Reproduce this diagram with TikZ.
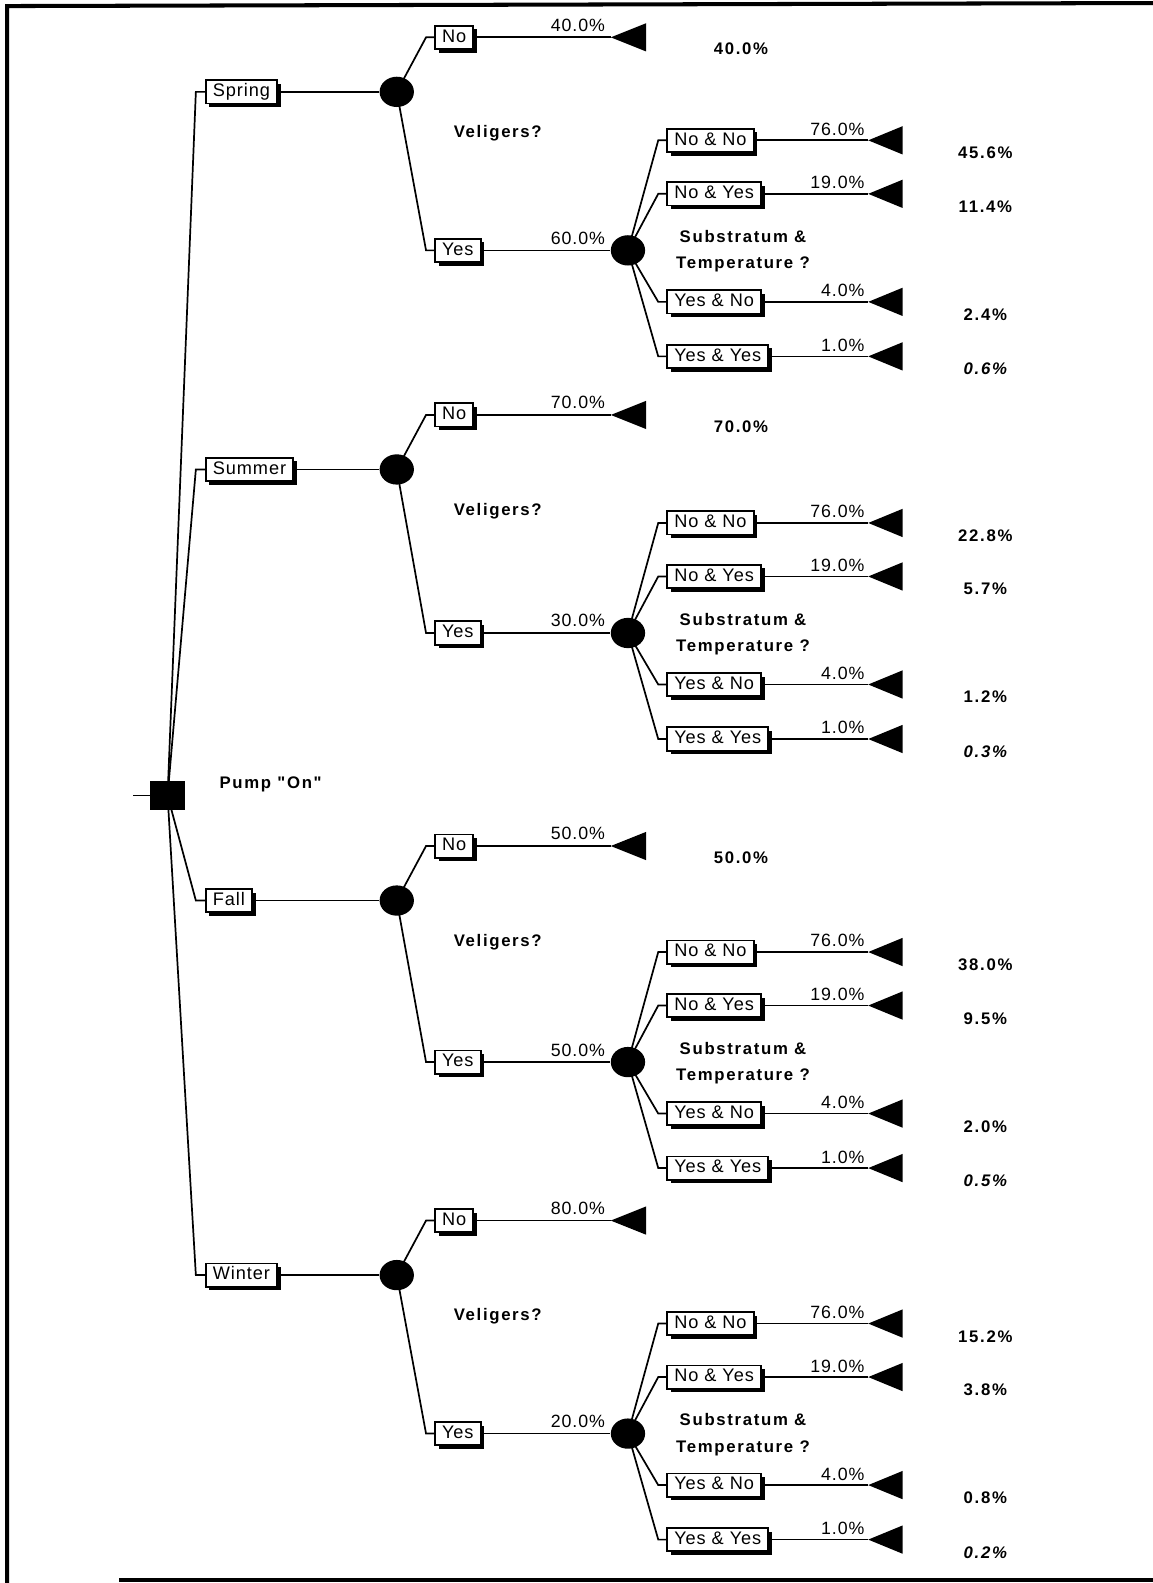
\documentclass[tikz,border=0pt]{standalone}
\usepackage{fontspec}
\setmainfont{Liberation Sans}
\newfontfamily\lblfont[LetterSpace=5]{Liberation Sans}
\newfontfamily\annfont[LetterSpace=10]{Liberation Sans}
\usetikzlibrary{shapes.geometric,shadows}
\begin{document}
\begin{tikzpicture}[x=0.5pt,y=-0.5pt,line width=0.85pt,
  lbox/.style={draw,fill=white,line width=0.9pt,anchor=west,
    drop shadow={shadow xshift=1.8pt,shadow yshift=-1.8pt,fill=black,opacity=1},
    font=\lblfont\fontsize{9}{10}\selectfont,
    inner xsep=3.5pt,inner ysep=1.5pt,text height=6.6pt,text depth=1.9pt},
  chance/.style={ellipse,fill=black,minimum width=17pt,minimum height=15pt,inner sep=0pt},
  decis/.style={rectangle,fill=black,minimum width=17pt,minimum height=14pt,inner sep=0pt},
  pct/.style={font=\lblfont\fontsize{8.8}{10}\selectfont,anchor=base east,inner sep=0pt},
  ann/.style={font=\annfont\bfseries\fontsize{8.3}{10}\selectfont,inner sep=0pt,
    text height=6pt,text depth=1.7pt},
  val/.style={font=\annfont\bfseries\fontsize{8.3}{10}\selectfont,inner sep=0pt,
    text height=6pt,text depth=1.7pt}]
\useasboundingbox (0,0) rectangle (1142,1568);
% frame
\draw[line width=2pt] (7,1568) -- (7,6) -- (1142,3);
\draw[line width=2pt] (118,1565) -- (1142,1565);
% root
\node[decis] (root) at (166,788) {};
\coordinate (stub) at (132,788);
\draw (stub) -- (root);
\node[ann] (pump) at (268,777) {Pump "On"};
\foreach \n/\lab/\S/\Y/\pno/\pyes/\outno/\va/\vb/\vc/\vd in {
  sp/Spring/91/248/40.0/60.0/40.0\%/45.6/11.4/2.4/0.6,
  su/Summer/465/627/70.0/30.0/70.0\%/22.8/5.7/1.2/0.3,
  fa/Fall/892/1052/50.0/50.0/50.0\%/38.0/9.5/2.0/0.5,
  wi/Winter/1263/1420/80.0/20.0//15.2/3.8/0.8/0.2}
{
  \node[lbox] (\n) at (203,\S) {\lab};
  \coordinate (\n-bend) at (194,\S);
  \node[chance] (\n-c) at (393,\S) {};
  \draw (root.center) -- (\n-bend) -- (\n.west);
  \draw (\n.east) -- (\n-c);
  % No branch
  \node[lbox] (\n-no) at (430,{\S-54}) {No};
  \coordinate (\n-nobend) at (422,{\S-54});
  \coordinate (\n-notip) at (605,{\S-54});
  \draw (\n-c.center) -- (\n-nobend) -- (\n-no.west);
  \draw (\n-no.east) -- (\n-notip);
  \fill (\n-notip) -- ++(35,-14) -- ++(0,28) -- cycle;
  \node[pct] (\n-nop) at (600,{\S-60}) {\pno\%};
  \node[val] (\n-nov) at (734,{\S-41}) {\outno};
  \node[ann] (\n-vel) at (493,{\S+41}) {Veligers?};
  % Yes branch
  \node[lbox] (\n-yes) at (430,\Y) {Yes};
  \coordinate (\n-yesbend) at (422,\Y);
  \node[chance] (\n-d) at (622,\Y) {};
  \draw (\n-c.center) -- (\n-yesbend) -- (\n-yes.west);
  \draw (\n-yes.east) -- (\n-d);
  \node[pct] (\n-yesp) at (600,{\Y-6}) {\pyes\%};
  \node[ann] (\n-sub) at (736,{\Y-12}) {Substratum \&};
  \node[ann] (\n-tem) at (736,{\Y+14}) {Temperature ?};
  \foreach \t/\dy/\p/\v/\st [count=\k] in {
    No \& No/-109/76.0/\va/\upshape,
    No \& Yes/-56/19.0/\vb/\upshape,
    Yes \& No/51/4.0/\vc/\upshape,
    Yes \& Yes/105/1.0/\vd/\itshape}
  {
    \node[lbox] (\n-s\k) at (660,{\Y+\dy}) {\t};
    \coordinate (\n-s\k-bend) at (652,{\Y+\dy});
    \coordinate (\n-s\k-tip) at (860,{\Y+\dy});
    \draw (\n-d.center) -- (\n-s\k-bend) -- (\n-s\k.west);
    \draw (\n-s\k.east) -- (\n-s\k-tip);
    \fill (\n-s\k-tip) -- ++(34,-14) -- ++(0,28) -- cycle;
    \node[pct] (\n-s\k-p) at (857,{\Y+\dy-5}) {\p\%};
    \node[val] (\n-s\k-v) at (976,{\Y+\dy+14}) {\st\v\%};
  }
}
\end{tikzpicture}
\end{document}
